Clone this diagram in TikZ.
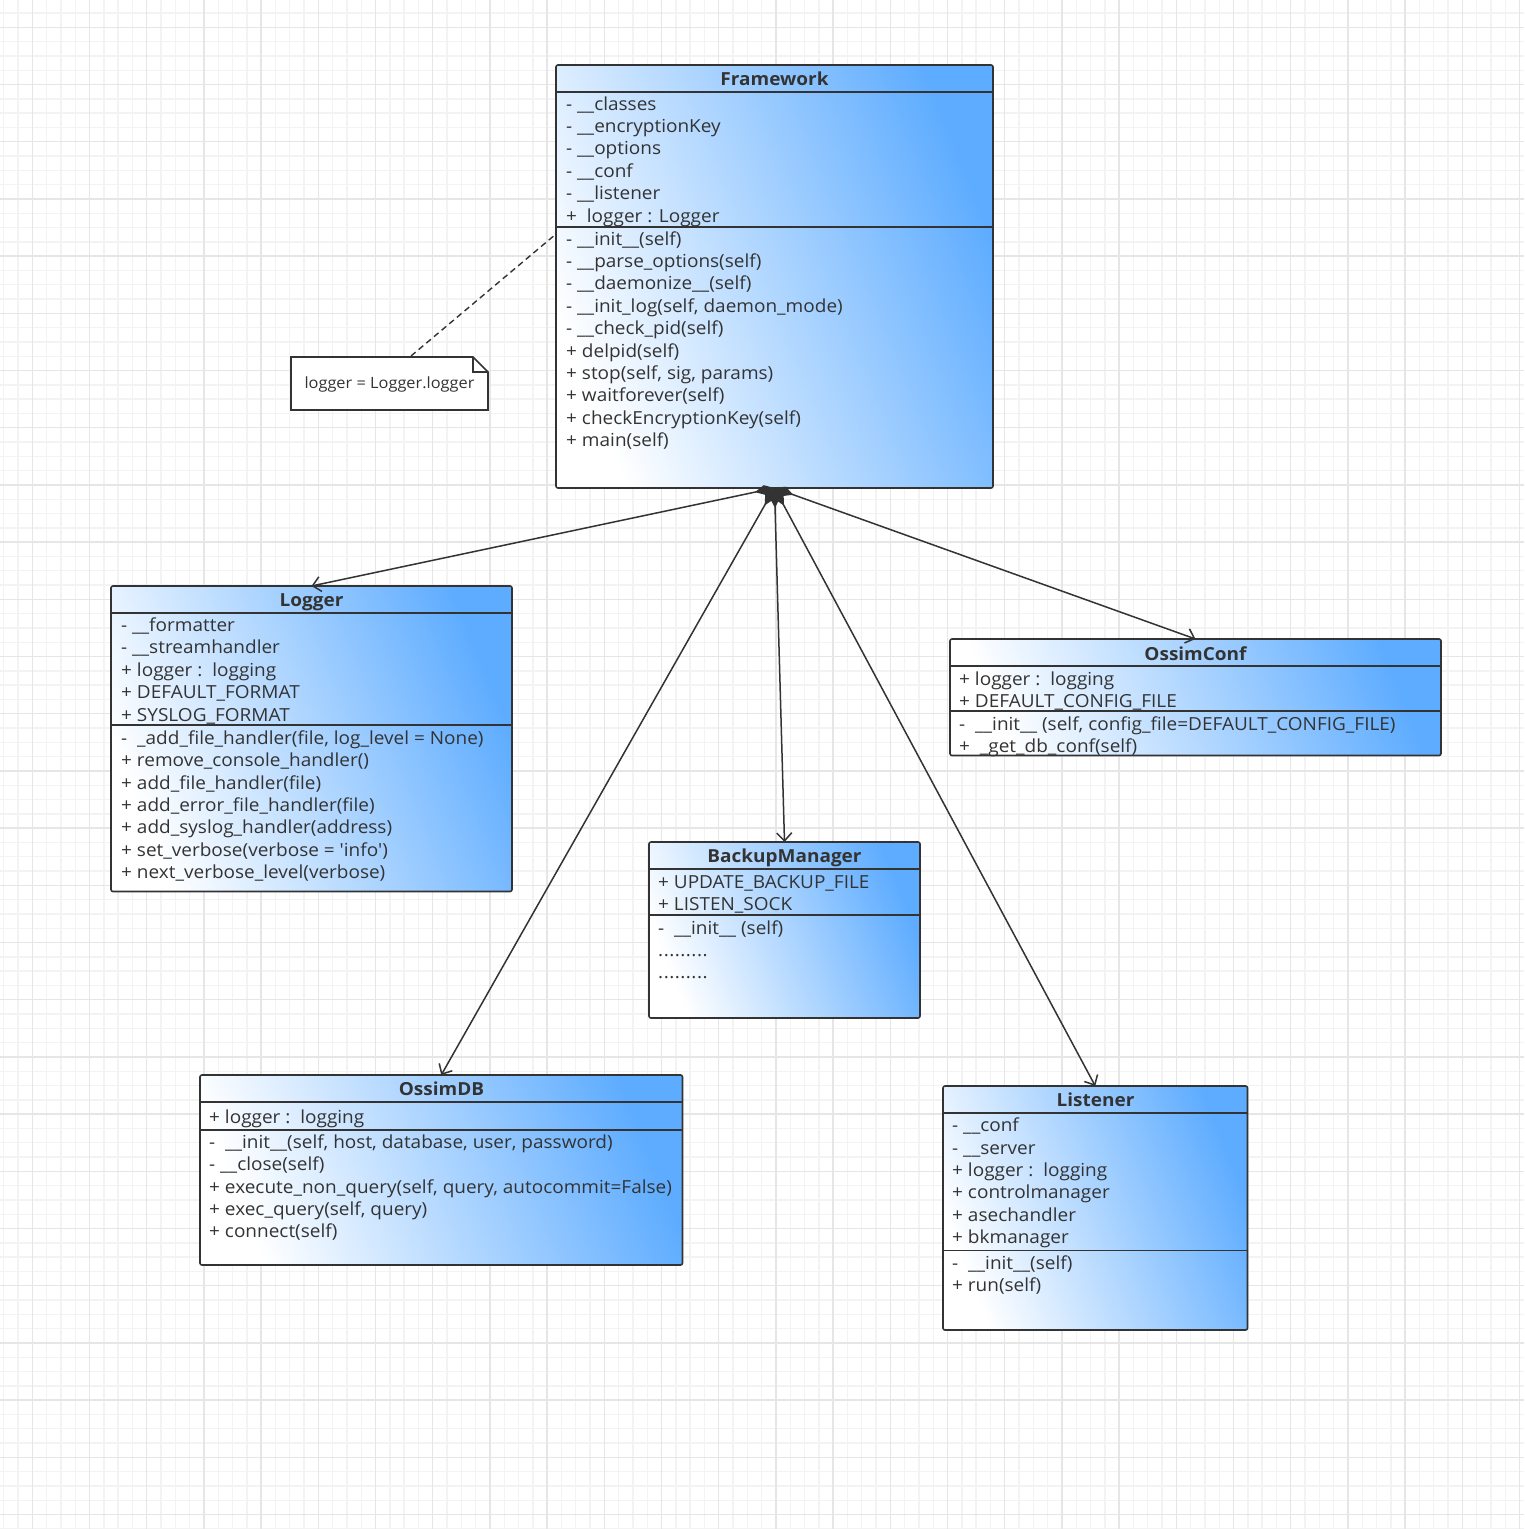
\documentclass[tikz,border=0pt]{standalone}
\usepackage{fontspec}
\setmainfont{Open Sans}
\newfontfamily\umlfont{Open Sans}[FakeStretch=1.055]
\usetikzlibrary{arrows.meta}
\definecolor{dk}{HTML}{333333}
\definecolor{bl}{RGB}{94,172,255}
\definecolor{gminor}{HTML}{F3F3F3}
\definecolor{gmajor}{HTML}{E6E6E6}
\newcommand\umlrows[4]{\foreach \t [count=\i from 0] in {#4}{\node[rowtxt] (#1\i) at (#2,{#3+22.4*\i}) {\t};}}
\newcommand\umldots{.\kern0.5pt.\kern0.5pt.\kern0.5pt.\kern0.5pt.\kern0.5pt.\kern0.5pt.\kern0.5pt.\kern0.5pt.}
\tikzset{
  classbox/.style={draw=dk, line width=1.6pt, rounded corners=2pt, top color=bl, bottom color=white, shading angle=-68, inner sep=0pt, outer sep=0pt, anchor=north west},
  sepline/.style={draw=dk, line width=1.6pt},
  rowtxt/.style={anchor=base west, inner sep=0pt, text=dk, font=\umlfont\fontsize{18}{20}\selectfont},
  titletxt/.style={anchor=base, inner sep=0pt, text=dk, font=\umlfont\bfseries\fontsize{18}{20}\selectfont},
  comp/.style={draw=dk, line width=1.5pt, arrows={Diamond[length=20pt,width=10pt,fill=dk]-Straight Barb[length=8pt,width=15pt]}},
  gridminor/.style={draw=gminor, line width=1.4pt},
  gridmajor/.style={draw=gmajor, line width=1.4pt},
}
\begin{document}
\begin{tikzpicture}[x=1pt,y=-1pt]
\useasboundingbox (0,0) rectangle (1524,1529);
\fill[white] (0,0) rectangle (1524,1529);
% grid
\foreach \i in {0,...,106}{\draw[gridminor] ({3.7+14.3*\i},0) -- ({3.7+14.3*\i},1529);}
\foreach \i in {0,...,106}{\draw[gridminor] (0,{13+14.3*\i}) -- (1524,{13+14.3*\i});}
\foreach \i in {0,...,26}{\draw[gridmajor] ({32.3+57.2*\i},0) -- ({32.3+57.2*\i},1529);}
\foreach \i in {0,...,26}{\draw[gridmajor] (0,{27.3+57.2*\i}) -- (1524,{27.3+57.2*\i});}

% Framework
\node[classbox, minimum width=437pt, minimum height=423pt] (fw) at (556,65) {};
\draw[sepline] (fw.west |- 0,92) -- (fw.east |- 0,92);
\draw[sepline] (fw.west |- 0,227) -- (fw.east |- 0,227);
\node[titletxt] (fwt) at (774.5,85) {Framework};
\umlrows{fwa}{566}{110}{{- \_\_classes},{- \_\_encryptionKey},{- \_\_options},{- \_\_conf},{- \_\_listener},{+\ \ logger : Logger}}
\umlrows{fwm}{566}{245}{{- \_\_init\_\_(self)},{- \_\_parse\_options(self)},{- \_\_daemonize\_\_(self)},{- \_\_init\_log(self, daemon\_mode)},{- \_\_check\_pid(self)},{+ delpid(self)},{+ stop(self, sig, params)},{+ waitforever(self)},{+ checkEncryptionKey(self)},{+ main(self)}}

% Note
\draw[dk, line width=1.6pt, fill=white] (291,357) -- (473,357) -- (488,372) -- (488,410) -- (291,410) -- cycle;
\draw[dk, line width=1.2pt] (473,357) -- (473,372) -- (488,372);
\node[anchor=base, inner sep=0pt, text=dk, font=\umlfont\fontsize{15.5}{17}\selectfont] (note) at (389.5,388.5) {logger = Logger.logger};
\coordinate (notetop) at (411,356);
\coordinate (fwleft) at (556,234);
\draw[dk, line width=1.4pt, dash pattern=on 6pt off 4pt] (notetop) -- (fwleft);

% Logger
\node[classbox, minimum width=401pt, minimum height=305.5pt] (lg) at (111,586) {};
\draw[sepline] (lg.west |- 0,613) -- (lg.east |- 0,613);
\draw[sepline] (lg.west |- 0,725) -- (lg.east |- 0,725);
\node[titletxt] (lgt) at (311.5,606) {Logger};
\umlrows{lga}{121}{631.5}{{- \_\_formatter},{- \_\_streamhandler},{+ logger :\ \ logging},{+ DEFAULT\_FORMAT},{+ SYSLOG\_FORMAT}}
\umlrows{lgm}{121}{744.3}{{-\ \ \_add\_file\_handler(file, log\_level = None)},{+ remove\_console\_handler()},{+ add\_file\_handler(file)},{+ add\_error\_file\_handler(file)},{+ add\_syslog\_handler(address)},{+ set\_verbose(verbose = \symbol{39}info\symbol{39})},{+ next\_verbose\_level(verbose)}}

% OssimConf
\node[classbox, minimum width=491pt, minimum height=116.5pt] (oc) at (950,639) {};
\draw[sepline] (oc.west |- 0,666) -- (oc.east |- 0,666);
\draw[sepline] (oc.west |- 0,711) -- (oc.east |- 0,711);
\node[titletxt] (oct) at (1195.5,660) {OssimConf};
\umlrows{oca}{959}{685}{{+ logger :\ \ logging},{+ DEFAULT\_CONFIG\_FILE}}
\umlrows{ocm}{959}{730}{{-\ \ \_\_init\_\_ (self, config\_file=DEFAULT\_CONFIG\_FILE)},{+\ \ \_get\_db\_conf(self)}}

% BackupManager
\node[classbox, minimum width=271pt, minimum height=176pt] (bm) at (649,842) {};
\draw[sepline] (bm.west |- 0,869) -- (bm.east |- 0,869);
\draw[sepline] (bm.west |- 0,915) -- (bm.east |- 0,915);
\node[titletxt] (bmt) at (784.5,862.5) {BackupManager};
\umlrows{bma}{658}{888}{{+ UPDATE\_BACKUP\_FILE},{+ LISTEN\_SOCK}}
\node[rowtxt] (bmm0) at (658,934) {-\ \ \_\_init\_\_ (self)};
\node[rowtxt] (bmm1) at (658,956.5) {\umldots};
\node[rowtxt] (bmm2) at (658,978.5) {\umldots};

% OssimDB
\node[classbox, minimum width=482.5pt, minimum height=190pt] (db) at (200,1075) {};
\draw[sepline] (db.west |- 0,1102) -- (db.east |- 0,1102);
\draw[sepline] (db.west |- 0,1130) -- (db.east |- 0,1130);
\node[titletxt] (dbt) at (441.5,1095.5) {OssimDB};
\umlrows{dba}{209}{1123.3}{{+ logger :\ \ logging}}
\umlrows{dbm}{209}{1148.3}{{-\ \ \_\_init\_\_(self, host, database, user, password)},{- \_\_close(self)},{+ execute\_non\_query(self, query, autocommit=False)},{+ exec\_query(self, query)},{+ connect(self)}}

% Listener
\node[classbox, minimum width=304.5pt, minimum height=244pt] (ls) at (943,1086) {};
\draw[sepline] (ls.west |- 0,1113) -- (ls.east |- 0,1113);
\draw[sepline] (ls.west |- 0,1250.5) -- (ls.east |- 0,1250.5);
\node[titletxt] (lst) at (1095.5,1106) {Listener};
\umlrows{lsa}{952}{1131.7}{{- \_\_conf},{- \_\_server},{+ logger :\ \ logging},{+ controlmanager},{+ asechandler},{+ bkmanager}}
\umlrows{lsm}{952}{1269.3}{{-\ \ \_\_init\_\_(self)},{+ run(self)}}

% connectors
\draw[comp] (fw.south) -- (lg.north);
\draw[comp] (fw.south) -- (db.north);
\draw[comp] (fw.south) -- (bm.north);
\draw[comp] (fw.south) -- (oc.north);
\draw[comp] (fw.south) -- (ls.north);
\end{tikzpicture}
\end{document}
